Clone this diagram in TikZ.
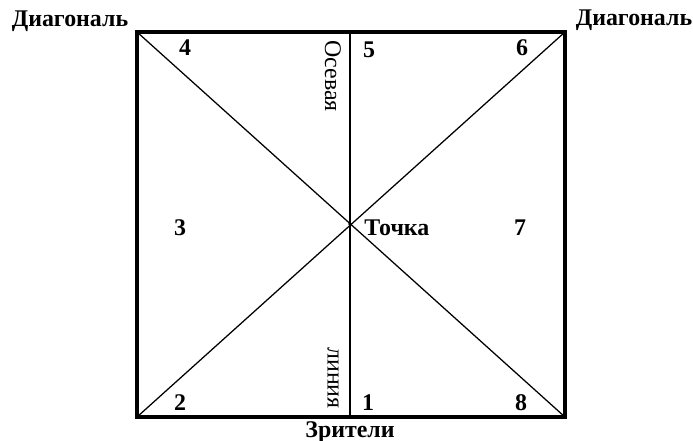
\documentclass[tikz,border=0pt]{standalone}
\usepackage{fontspec}
\setmainfont{Liberation Serif}
\usepackage{tikz}
\usetikzlibrary{positioning}

\begin{document}
\begin{tikzpicture}[
    x=0.025cm,y=-0.025cm,
    lbl/.style={font=\fontsize{17}{19}\selectfont\bfseries,inner sep=0pt},
    axis/.style={font=\fontsize{17}{19}\selectfont,inner sep=0pt,rotate=-90},
    frame/.style={line width=2.2pt},
    thin/.style={line width=0.9pt}
  ]
    \useasboundingbox (0,0) rectangle (693,441);
    % corners and centre
    \coordinate (TL) at (137,32);
    \coordinate (TR) at (565,32);
    \coordinate (BL) at (137,417);
    \coordinate (BR) at (565,417);
    \coordinate (TM) at (350,32);
    \coordinate (BM) at (350,417);
    \coordinate (C) at (350,224);

    \draw[thin] (TL) -- (BR);
    \draw[thin] (BL) -- (TR);
    \draw[thin] (TM) -- (BM);
    \draw[frame] (TL) rectangle (BR);
    \fill (C) circle (1.4pt);

    \node[lbl] (DL) at (70,21) {Диагональ};
    \node[lbl] (DR) at (634,20) {Диагональ};
    \node[lbl] (Z) at (350,432) {Зрители};
    \node[lbl,anchor=west] (P) at (364,228) {Точка};
    \node[axis] (Os) at (333,76) {Осевая};
    \node[axis] (Ln) at (333,378) {линия};

    \node[lbl] (n1) at (368,403) {1};
    \node[lbl] (n2) at (180,403) {2};
    \node[lbl] (n3) at (180,228) {3};
    \node[lbl] (n4) at (185,48) {4};
    \node[lbl] (n5) at (369,50) {5};
    \node[lbl] (n6) at (522,48) {6};
    \node[lbl] (n7) at (520,228) {7};
    \node[lbl] (n8) at (521,403) {8};
  \end{tikzpicture}
\end{document}
